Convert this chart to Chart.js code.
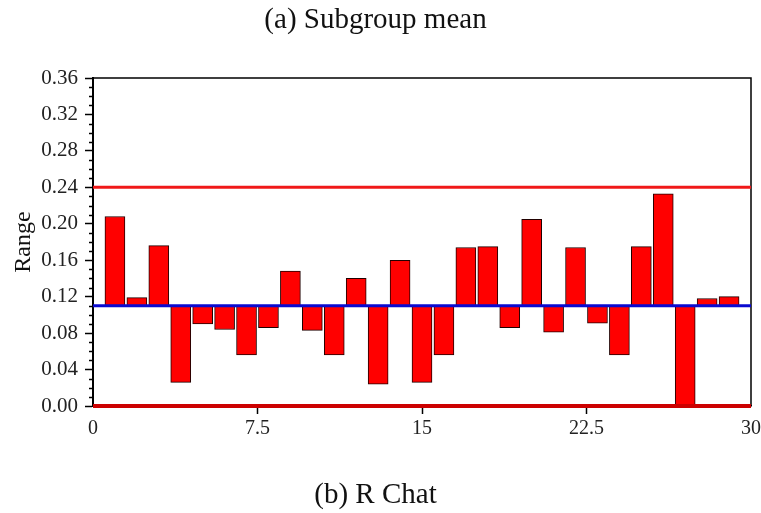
<!DOCTYPE html>
<html>
<head>
<meta charset="utf-8">
<title>R Chart</title>
<script src="https://cdn.jsdelivr.net/npm/chart.js@4.4.1/dist/chart.umd.min.js"></script>
<style>
    html, body { margin: 0; padding: 0; background: #fff; }
    #wrap { width: 761px; height: 513px; }
</style>
</head>
<body>
<div id="wrap"><canvas id="rChart" width="761" height="513"></canvas></div>
<script>
// R chart of the subgroup ranges

const subgroups = [1, 2, 3, 4, 5, 6, 7, 8, 9, 10, 11, 12, 13, 14, 15,
    16, 17, 18, 19, 20, 21, 22, 23, 24, 25, 26, 27, 28, 29];
const ranges = [0.208, 0.119, 0.176, 0.026, 0.090, 0.084, 0.056, 0.086, 0.148, 0.083,
    0.056, 0.140, 0.024, 0.160, 0.026, 0.056, 0.174, 0.175, 0.086, 0.205,
    0.081, 0.174, 0.091, 0.056, 0.175, 0.233, 0.000, 0.118, 0.120];

// control limits
const centerLine = 0.11;
const upperLimit = 0.24;
const lowerLimit = 0;
const limitSpan = [0, 30];

const xTicks = [0, 7.5, 15, 22.5, 30];
const yTicks = [0, 0.04, 0.08, 0.12, 0.16, 0.20, 0.24, 0.28, 0.32, 0.36];
const yMinorStep = 0.01;

const SERIF = "'Liberation Serif', 'Times New Roman', serif";

document.addEventListener('DOMContentLoaded', () => {
    renderRChart();
});

/**
 * Draws the box frame and the small minor ticks on the y axis.
 */
const framePlugin = {
    id: 'frame',
    beforeDatasetsDraw(chart) {
        const { ctx, chartArea: a, scales } = chart;
        ctx.save();
        ctx.strokeStyle = '#000';
        ctx.lineWidth = 1.5;
        ctx.beginPath();
        ctx.moveTo(a.left, a.top);
        ctx.lineTo(a.right, a.top);
        ctx.lineTo(a.right, a.bottom);
        ctx.stroke();

        // minor ticks between labelled ones
        const y = scales.y;
        const n = Math.round((y.max - y.min) / yMinorStep);
        for (let k = 0; k <= n; k++) {
            if (k % 4 === 0) continue;
            const py = Math.round(y.getPixelForValue(y.min + k * yMinorStep)) + 0.5;
            ctx.beginPath();
            ctx.moveTo(a.left - 4, py);
            ctx.lineTo(a.left, py);
            ctx.stroke();
        }
        ctx.restore();
    }
};

function limitLine(value, color, width) {
    return {
        type: 'line',
        data: limitSpan.map(x => ({ x, y: value })),
        borderColor: color,
        borderWidth: width,
        pointRadius: 0,
        clip: false,
        order: 1
    };
}

function renderRChart() {
    const ctx = document.getElementById('rChart');
    if (!ctx) return;

    Chart.defaults.color = '#000';
    Chart.defaults.font.family = SERIF;

    ctx.chart = new Chart(ctx, {
        type: 'bar',
        data: {
            datasets: [
                limitLine(upperLimit, '#f01818', 3),
                limitLine(centerLine, '#0a0ad0', 3),
                limitLine(lowerLimit, '#cc0000', 4),
                {
                    // floating bars from the centre line to each range
                    data: subgroups.map((x, i) => ({ x, y: [centerLine, ranges[i]] })),
                    backgroundColor: '#ff0000',
                    borderColor: '#200000',
                    borderWidth: 1,
                    borderSkipped: false,
                    barThickness: 20,
                    order: 2
                }
            ]
        },
        options: {
            responsive: false,
            animation: false,
            layout: { padding: { left: 0, right: 10, top: 0, bottom: 0 } },
            plugins: {
                legend: { display: false },
                tooltip: { enabled: false },
                title: {
                    display: true,
                    text: '(a) Subgroup mean',
                    font: { family: SERIF, size: 29, weight: 'normal', lineHeight: 1.2 },
                    color: '#111',
                    padding: { top: 3, bottom: 40.2 }
                },
                subtitle: {
                    display: true,
                    position: 'bottom',
                    text: '(b) R Chat',
                    font: { family: SERIF, size: 29, weight: 'normal', lineHeight: 1.2 },
                    color: '#111',
                    padding: { top: 32.2, bottom: 0 }
                }
            },
            scales: {
                x: {
                    type: 'linear',
                    min: 0,
                    max: 30,
                    offset: false,
                    afterBuildTicks: s => { s.ticks = xTicks.map(value => ({ value })); },
                    afterFit: s => { s.height = 40; s.paddingLeft = 0; s.paddingRight = 0; },
                    grid: {
                        offset: false,
                        drawOnChartArea: false,
                        tickLength: 8,
                        tickWidth: 1.5,
                        tickColor: c => (c.index === 0 || c.index === xTicks.length - 1) ? 'transparent' : '#000'
                    },
                    border: { color: '#000', width: 1.5 },
                    ticks: {
                        padding: 3,
                        maxRotation: 0,
                        autoSkip: false,
                        font: { family: SERIF, size: 20 },
                        color: '#222'
                    }
                },
                y: {
                    min: 0,
                    max: 0.36,
                    afterBuildTicks: s => { s.ticks = yTicks.map(value => ({ value })); },
                    afterFit: s => { s.width = 93; },
                    grid: {
                        drawOnChartArea: false,
                        tickLength: 8,
                        tickWidth: 1.5,
                        tickColor: '#000'
                    },
                    border: { color: '#000', width: 2 },
                    ticks: {
                        padding: 7,
                        autoSkip: false,
                        font: { family: SERIF, size: 21 },
                        color: '#222',
                        callback: v => v.toFixed(2)
                    },
                    title: {
                        display: true,
                        text: 'Range',
                        font: { family: SERIF, size: 24, lineHeight: 1.2 },
                        color: '#111',
                        padding: { top: 9, bottom: 0 }
                    }
                }
            }
        },
        plugins: [framePlugin]
    });
}
</script>
</body>
</html>
